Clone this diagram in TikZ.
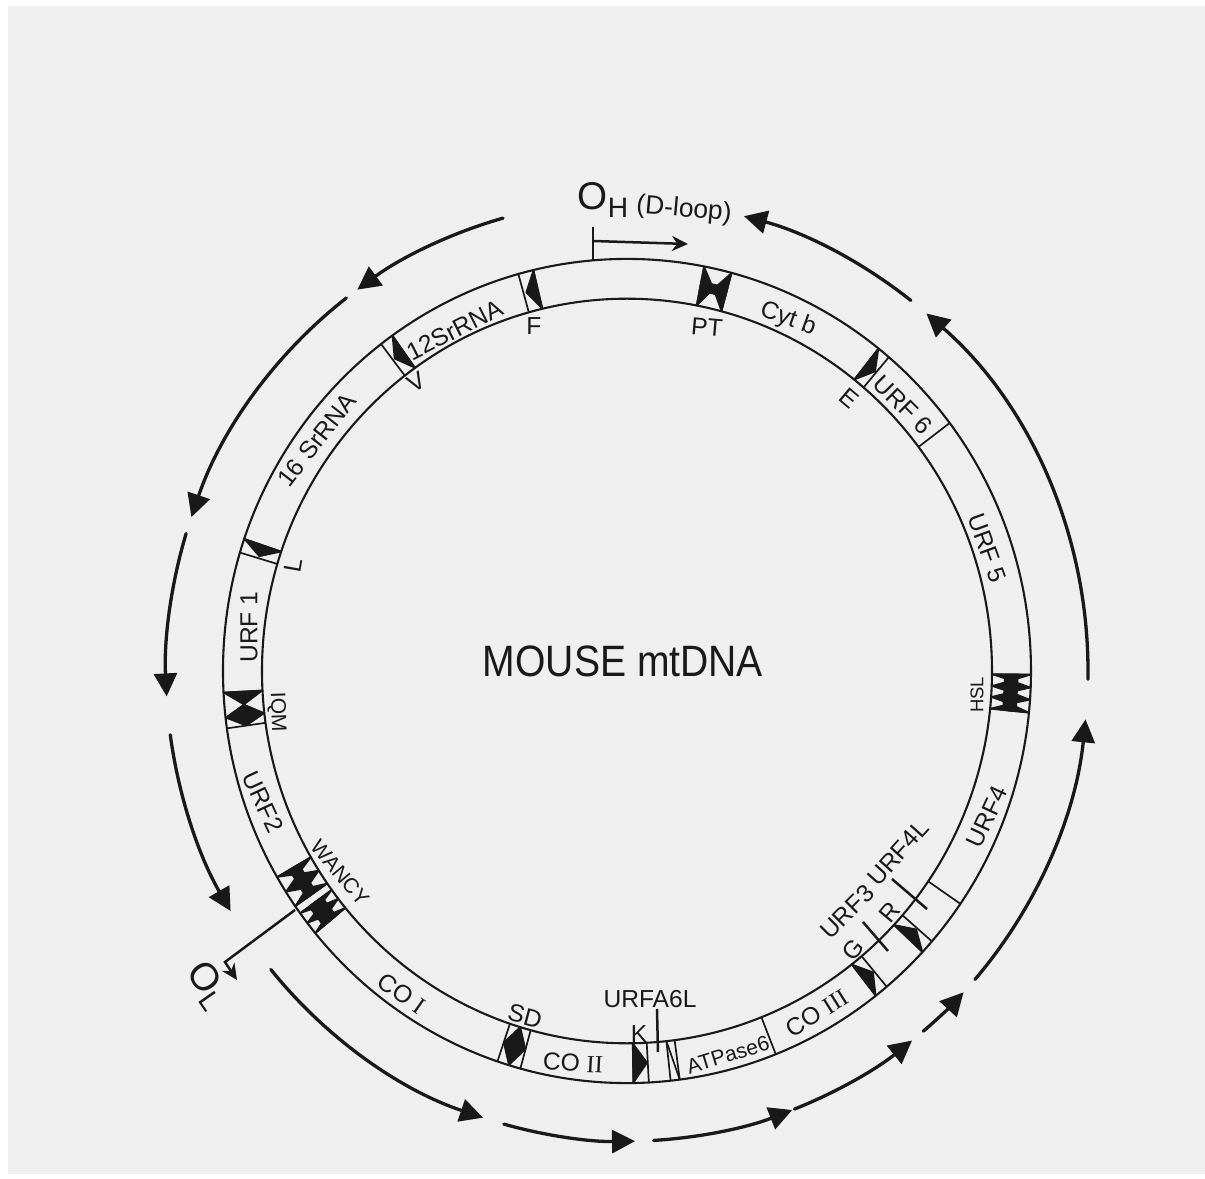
\documentclass[tikz,border=0pt]{standalone}
\usepackage{fontspec}
\setmainfont{Liberation Sans}
\newfontfamily\numeralfont{Liberation Serif}
\usepackage{tikz}
\usetikzlibrary{arrows.meta}
\definecolor{paper}{RGB}{239,239,239}
\definecolor{ink}{RGB}{25,25,25}

\begin{document}
\begin{tikzpicture}[
    x=0.2mm, y=0.2mm,
    ring/.style={draw=ink, line width=0.42mm},
    band/.style={draw=ink, line width=0.34mm},
    blot/.style={fill=ink, draw=ink, line width=0.3mm, line join=round},
    gene/.style={draw=ink, line width=0.66mm, line cap=round, -{Triangle[length=4.6mm, width=4.6mm]}},
    tick/.style={draw=ink, line width=0.5mm},
    smallhead/.style={-{Stealth[length=3.2mm, width=3mm]}},
    lab/.style={text=ink, inner sep=0pt, font=\fontsize{14}{16}\selectfont},
    labsm/.style={text=ink, inner sep=0pt, font=\fontsize{12}{14}\selectfont},
]
\useasboundingbox (-627,-508) rectangle (578,671);
\fill[paper] (-619,-503) rectangle (578,665);

% ring, slightly taller than wide
\begin{scope}[yscale=1.02]
\draw[ring] (0,0) circle[radius=404];
\draw[ring] (0,0) circle[radius=365];
\foreach \ang in {37,49.6,51.5,75,79,103.4,105.6,125.5,127.5,161.3,163.3,183,188,210,214.8,216,219.5,
                  251.3,254.7,270.9,273.1,276.2,277.5,291.6,308,310,317,319,325.6,354.2,356,357.7,359.5}
    \draw[band] (\ang:365) -- (\ang:404);
\draw[band] (276.2:365) -- (277.5:404);
% black parts of the tRNA bands: base angle / tip angle
\foreach \base/\tip in {103.4/105.2, 75/77, 79/77, 125.5/127.2, 161.3/163, 183/184.9, 186.5/184.9, 186.5/188,
                        210/211.2, 212.4/211.2, 212.4/213.6, 214.8/213.6, 216/216.9, 217.7/216.9, 217.7/218.6, 219.5/218.6,
                        253/251.3, 253/254.7, 270.9/273, 308/309.8, 317/318.8, 51.5/49.8,
                        354.2/355.2, 356/355.2, 356/356.9, 357.7/356.9, 357.7/358.6, 359.5/358.6}
    \fill[blot] (\base:365) -- (\tip:384.5) -- (\base:404) -- cycle;
% waists: first angle / last angle / inner radius / outer radius
\foreach \lo/\hi/\rin/\rout in {75/79/380/389, 354.2/359.5/378/391, 210/214.8/379/390, 216/219.5/377/393}
    \fill[blot] (\lo:\rin) -- (\lo:\rout) -- (\hi:\rout) -- (\hi:\rin) -- cycle;
% transcript arrows outside the ring: start / end
\foreach \from/\to in {105.6/125.8, 127.5/160.9, 163/183.1, 187.8/210.7, 219.4/251.8, 254.5/271,
                       273.3/291, 291.3/308.2, 310/316.9, 319/354.1, 359/409.5, 52/75.3}
    \draw[gene] (\from:461) arc[start angle=\from, end angle=\to, radius=461];
\end{scope}

% origins
\coordinate (ohbase) at (-34,411);
\coordinate (ohtop) at (-34,444);
\coordinate (ohmid) at (-34,430);
\coordinate (ohtip) at (61,427);
\draw[tick] (ohbase) -- (ohtop);
\draw[tick, smallhead] (ohmid) -- (ohtip);
\coordinate (olbase) at (-332,-239);
\coordinate (olbend) at (-402,-291);
\coordinate (oltip) at (-390,-309);
\draw[tick, smallhead] (olbase) -- (olbend) -- (oltip);

% ticks
\coordinate (a6a) at (30,-338);
\coordinate (a6b) at (31,-381);
\coordinate (u3a) at (236,-251);
\coordinate (u3b) at (261,-280);
\coordinate (u4a) at (265,-208);
\coordinate (u4b) at (300,-238);
\draw[tick] (a6a) -- (a6b);
\draw[tick] (u3a) -- (u3b);
\draw[tick] (u4a) -- (u4b);

% labels
\node[text=ink, inner sep=0pt, font=\fontsize{25}{30}\selectfont] (title) at (-4,10) {\scalebox{.89}[1]{MOUSE mtDNA}};
\node[lab, font=\fontsize{22}{24}\selectfont] (oh) at (-24,471) {O\raisebox{-4pt}{\fontsize{16}{18}\selectfont H}};
\node[lab, rotate=-5, font=\fontsize{15}{17}\selectfont] (dloop) at (57,461) {(D-loop)};
\node[lab, rotate=-55, font=\fontsize{22}{24}\selectfont] (ol) at (-420,-314) {O\raisebox{-4pt}{\fontsize{16}{18}\selectfont L}};
\node[lab, rotate=52] (rna16) at (-310,231) {16 SrRNA};
\node[lab, rotate=27] (rna12) at (-172,341) {12SrRNA};
\node[lab] (f) at (-93,345) {F};
\node[lab, rotate=30] (v) at (-211,289) {V};
\node[lab, rotate=80] (l) at (-334,106) {L};
\node[lab, rotate=90] (urfa) at (-378,44) {URF 1};
\node[labsm, rotate=-88] (iqm) at (-350,-41) {IQM};
\node[lab, rotate=-65] (urfb) at (-364,-131) {URF2};
\node[labsm, rotate=-50] (wancy) at (-287,-202) {WANCY};
\node[lab, rotate=-35] (coa) at (-225,-322) {CO {\numeralfont I}};
\node[lab, rotate=-15] (sd) at (-102,-345) {SD};
\node[lab, rotate=-3] (cob) at (-54,-392) {CO {\numeralfont II}};
\node[lab] (k) at (12,-363) {K};
\node[lab] (a6l) at (23,-328) {URFA6L};
\node[labsm, rotate=17] (atp) at (101,-384) {ATPase6};
\node[lab, rotate=32] (coc) at (190,-342) {CO {\numeralfont III}};
\node[lab, rotate=50] (g) at (226,-279) {G};
\node[lab, rotate=45] (urfc) at (220,-241) {URF3};
\node[lab, rotate=50] (r) at (263,-241) {R};
\node[lab, rotate=48] (urfl) at (271,-182) {URF4L};
\node[lab, rotate=65] (urfd) at (360,-146) {URF4};
\node[text=ink, inner sep=0pt, rotate=90, font=\fontsize{10.5}{12}\selectfont] (hsl) at (350,-24) {HSL};
\node[lab, rotate=-70] (urfe) at (360,123) {URF 5};
\node[lab, rotate=-45] (urff) at (276,266) {URF 6};
\node[lab, rotate=-40] (e) at (222,273) {E};
\node[lab, rotate=-20] (cyt) at (161,352) {Cyt b};
\node[lab, rotate=-5] (pt) at (80,344) {PT};
\end{tikzpicture}
\end{document}
